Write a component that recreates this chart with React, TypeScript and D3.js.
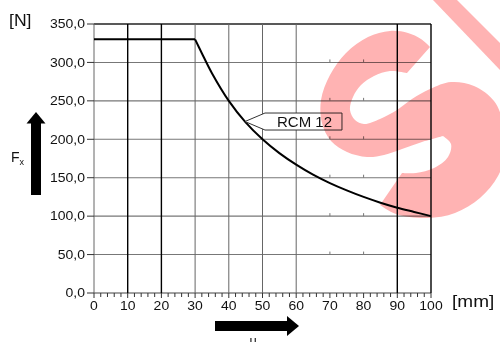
import React from "react";
import * as d3 from "d3";

// ---- data ----
const X_TICKS = [0, 10, 20, 30, 40, 50, 60, 70, 80, 90, 100];
const Y_TICKS = [0, 50, 100, 150, 200, 250, 300, 350];
const U_VALUES = [0, 30, 32, 35, 40, 45, 50, 55, 60, 65, 70, 75, 80, 85, 90, 95, 100];
const F_VALUES = [330, 330, 312, 286, 250, 222, 200, 182, 167, 154, 143, 133.5, 125, 117.5, 111, 105.5, 100];
const SERIES_LABEL = "RCM 12";
const CALLOUT_U = 44.8;
const Y_UNIT = "[N]";
const X_UNIT = "[mm]";
const FORCE_SYMBOL = "F";
const FORCE_SUB = "x";
const TRAVEL_SYMBOL = "u";

// ---- layout ----
const W = 500;
const H = 342;
const X0 = 94, X1 = 431, Y0 = 293, Y1 = 24;

// decorative watermark outline (pixel space), split at its sharp corners
const WM_RUNS: { pts: [number, number][]; smooth: boolean }[] = [
  {
    smooth: true,
    pts: [
      [430, 47], [421, 39], [408, 33], [390, 31], [368, 37], [346, 53], [330, 75], [321, 100],
      [322, 123], [331, 141], [347, 152], [367, 157], [384, 155], [402, 149], [422, 142], [443, 136],
    ],
  },
  {
    smooth: true,
    pts: [[443, 136], [451, 144], [448, 157], [434, 168], [416, 173], [402, 173]],
  },
  { smooth: false, pts: [[402, 173], [380, 205]] },
  {
    smooth: true,
    pts: [
      [380, 205], [396, 214], [427, 218], [455, 213], [480, 198], [498, 176], [506, 150], [503, 122],
      [494, 101], [474, 86], [451, 82], [430, 89], [412, 99], [397, 110], [380, 119], [364, 124],
      [355, 120], [350, 110], [353, 97], [361, 85], [374, 76], [390, 71], [407, 73],
    ],
  },
  { smooth: false, pts: [[407, 73], [430, 47]] },
];
const WM_STRIPE: [number, number][] = [[433, 0], [457, 0], [500, 43], [500, 70]];

const FONT = "'Liberation Sans', Arial, Helvetica, sans-serif";
const TXT = "#111";
const PINK = "#ffb3b3";

export default function App() {
  const x = d3.scaleLinear().domain([0, 100]).range([X0, X1]);
  const y = d3.scaleLinear().domain([0, 350]).range([Y0, Y1]);
  const fmt = (v: number) => d3.format(".1f")(v).replace(".", ",");

  const data = U_VALUES.map((u, i) => [u, F_VALUES[i]] as [number, number]);
  const flat = data.filter((d) => d[0] <= 30);
  const falling = data.filter((d) => d[0] >= 30);
  const lineFlat = d3
    .line<[number, number]>()
    .x((d) => x(d[0]))
    .y((d) => y(d[1]));
  const lineFall = d3
    .line<[number, number]>()
    .x((d) => x(d[0]))
    .y((d) => y(d[1]))
    .curve(d3.curveCatmullRom.alpha(0.5));

  const minor = d3.range(0, 101, 2);
  const strong = new Set([10, 20, 90, 100]);
  const absent = new Set([70, 80]);

  const poly = (pts: [number, number][]) => "M" + pts.map((p) => p.join(",")).join("L") + "Z";
  const smoothLine = d3.line().curve(d3.curveCatmullRom.alpha(0.5));
  const straightLine = d3.line();
  const wmPath =
    WM_RUNS.map((r, i) => {
      const s = (r.smooth ? smoothLine(r.pts) : straightLine(r.pts)) || "";
      return i === 0 ? s : "L" + s.slice(1);
    }).join("") + "Z";

  // callout
  const interp = d3.scaleLinear().domain(U_VALUES).range(F_VALUES);
  const tipX = x(CALLOUT_U);
  const tipY = y(interp(CALLOUT_U));
  const bx = tipX + 20, bw = 77, bh = 17;
  const by = tipY - 8.5;
  const callout = `M${tipX},${tipY} L${bx},${by} L${bx + bw},${by} L${bx + bw},${by + bh} L${bx},${by + bh} Z`;

  const tickScale = "scale(1.12,1)";

  return (
    <svg
      width={W}
      height={H}
      style={{ position: "absolute", left: 0, top: 0, background: "#fff" }}
      fontFamily={FONT}
    >
      <rect x={0} y={0} width={W} height={H} fill="#fff" />

      {/* horizontal grid */}
      {Y_TICKS.map((t) => (
        <line
          key={"h" + t}
          x1={X0}
          x2={X1}
          y1={y(t)}
          y2={y(t)}
          stroke={t === 350 ? "#222" : t === 0 ? "#444" : "#777"}
          strokeWidth={t === 350 ? 1.3 : 1.1}
        />
      ))}

      {/* vertical grid */}
      {X_TICKS.filter((t) => !absent.has(t)).map((t) => (
        <line
          key={"v" + t}
          x1={x(t)}
          x2={x(t)}
          y1={Y1}
          y2={Y0}
          stroke={strong.has(t) ? "#000" : "#666"}
          strokeWidth={strong.has(t) ? 1.4 : 1}
        />
      ))}

      {/* tiny marks where missing verticals cross grid */}
      {X_TICKS.filter((t) => absent.has(t)).map((t) =>
        Y_TICKS.filter((v) => v > 0 && v < 350).map((v) => (
          <line
            key={"m" + t + "_" + v}
            x1={x(t)}
            x2={x(t)}
            y1={y(v) - 3}
            y2={y(v)}
            stroke="#777"
            strokeWidth={1}
          />
        ))
      )}

      {/* x axis ticks */}
      {minor.map((t) => (
        <line
          key={"xt" + t}
          x1={x(t)}
          x2={x(t)}
          y1={Y0}
          y2={Y0 + (t % 10 === 0 ? 5 : 4)}
          stroke="#333"
          strokeWidth={1}
        />
      ))}

      {/* y axis ticks */}
      {Y_TICKS.map((t) => (
        <line key={"yt" + t} x1={87} x2={X0} y1={y(t)} y2={y(t)} stroke="#333" strokeWidth={1} />
      ))}

      {/* y labels */}
      {Y_TICKS.map((t) => (
        <text
          key={"yl" + t}
          transform={`translate(85,${y(t) + 4.3}) ${tickScale}`}
          textAnchor="end"
          fontSize={12.5}
          fill={TXT}
        >
          {fmt(t)}
        </text>
      ))}

      {/* x labels */}
      {X_TICKS.map((t) => (
        <text
          key={"xl" + t}
          transform={`translate(${x(t)},${310}) ${tickScale}`}
          textAnchor="middle"
          fontSize={12.5}
          fill={TXT}
        >
          {t}
        </text>
      ))}

      {/* units */}
      <text transform={`translate(9,26) scale(1.1,1)`} fontSize={16} fill={TXT}>
        {Y_UNIT}
      </text>
      <text transform={`translate(452,307) scale(1.12,1)`} fontSize={17} fill={TXT}>
        {X_UNIT}
      </text>

      {/* curve */}
      <path d={lineFlat(flat) || ""} fill="none" stroke="#000" strokeWidth={2} />
      <path d={lineFall(falling) || ""} fill="none" stroke="#000" strokeWidth={2} />

      {/* callout */}
      <path d={callout} fill="#fff" stroke="#333" strokeWidth={1} />
      <text x={bx + 12} y={by + 13.5} fontSize={15} fill={TXT}>
        {SERIES_LABEL}
      </text>

      {/* Fx arrow */}
      <path d="M31,123 L41,123 L41,195 L31,195 Z" fill="#000" />
      <path d="M26.5,123.5 L36,112 L45.5,123.5 Z" fill="#000" />
      <text x={11} y={162} fontSize={14} fill={TXT}>
        {FORCE_SYMBOL}
        <tspan fontSize={9} dy={2.5}>{FORCE_SUB}</tspan>
      </text>

      {/* u arrow */}
      <path d="M215,321 L288,321 L288,331 L215,331 Z" fill="#000" />
      <path d="M287,316 L299,326 L287,336 Z" fill="#000" />
      <text x={253} y={345} textAnchor="middle" fontSize={13} fill={TXT}>
        {TRAVEL_SYMBOL}
      </text>

      {/* watermark */}
      <g style={{ mixBlendMode: "multiply" }}>
        <path d={wmPath} fill={PINK} />
        <path d={poly(WM_STRIPE)} fill={PINK} />
      </g>
    </svg>
  );
}
